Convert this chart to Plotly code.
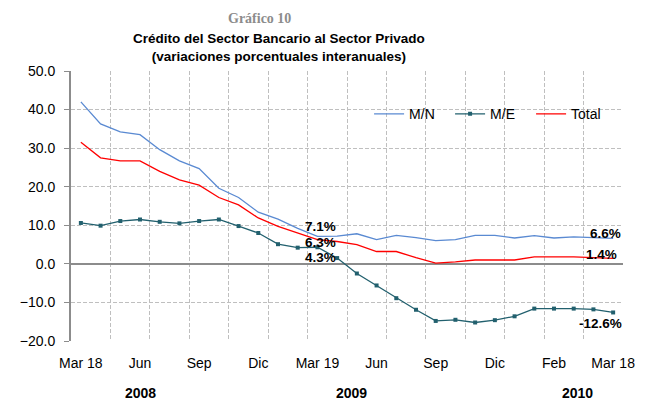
import plotly.graph_objects as go

# 28 observaciones (mar-2008 .. mar-2010)
idx = list(range(28))
mn = [42.0, 36.3, 34.2, 33.5, 29.6, 26.7, 24.7, 19.6, 17.2, 13.4, 11.6, 9.2, 7.1,
      7.2, 7.8, 6.3, 7.4, 6.8, 6.0, 6.3, 7.4, 7.4, 6.7, 7.3, 6.7, 7.0, 6.8, 6.6]
me = [10.6, 9.9, 11.1, 11.5, 10.9, 10.5, 11.1, 11.5, 9.8, 8.0, 5.1, 4.2, 4.3,
      1.5, -2.5, -5.6, -8.9, -11.9, -14.8, -14.5, -15.2, -14.6, -13.6, -11.6, -11.6, -11.6, -11.8, -12.6]
total = [31.5, 27.5, 26.7, 26.7, 24.0, 21.8, 20.4, 17.2, 15.3, 11.9, 9.7, 7.9, 6.3,
         5.8, 5.0, 3.2, 3.2, 1.6, 0.2, 0.5, 1.0, 1.0, 1.0, 1.8, 1.8, 1.8, 1.6, 1.4]
tick_pos = [0, 3, 6, 9, 12, 15, 18, 21, 24, 27]
tick_txt = ['Mar 18', 'Jun', 'Sep', 'Dic', 'Mar 19', 'Jun', 'Sep', 'Dic', 'Feb', 'Mar 18']
years = ['2008', '2009', '2010']
year_pos = [3, 13.75, 25.2]

fig = go.Figure()
fig.add_trace(go.Scatter(x=idx, y=mn, name='M/N', mode='lines',
                         line=dict(color='#5A8AD2', width=1.3)))
fig.add_trace(go.Scatter(x=idx, y=me, name='M/E', mode='lines+markers',
                         line=dict(color='#22606E', width=1.3),
                         marker=dict(symbol='square', size=4, color='#22606E')))
fig.add_trace(go.Scatter(x=idx, y=total, name='Total', mode='lines',
                         line=dict(color='#FF0000', width=1.3)))

# etiquetas de valores
lbl = [(12, mn[12], '7.1%', 3, 10), (12, total[12], '6.3%', 3, -3), (12, me[12], '4.3%', 3, -10),
       (27, mn[27], '6.6%', -8, 5), (27, total[27], '1.4%', -12, 4), (27, me[27], '-12.6%', -13, -11)]
for x, y, t, xs, ys in lbl:
    fig.add_annotation(x=x, y=y, text='<b>%s</b>' % t, showarrow=False, xshift=xs, yshift=ys,
                       font=dict(family='Liberation Sans, Arial', size=13.5, color='black'))

for y, p in zip(years, year_pos):
    fig.add_annotation(x=p, y=0, yref='paper', text='<b>%s</b>' % y, showarrow=False,
                       yanchor='middle', yshift=-52,
                       font=dict(family='Liberation Sans, Arial', size=14, color='black'))

fig.add_annotation(x=0.5, xref='paper', y=1, yref='paper', yanchor='middle', yshift=53, xshift=-88,
                   showarrow=False, text='<b>Gráfico 10</b>',
                   font=dict(family='Liberation Serif, Times New Roman', size=14, color='#8C8C8C'))
fig.add_annotation(x=0.5, xref='paper', y=1, yref='paper', yanchor='middle', yshift=24, xshift=-68,
                   showarrow=False,
                   text='<b>Crédito del Sector Bancario al Sector Privado<br>(variaciones porcentuales interanuales)</b>',
                   font=dict(family='Liberation Sans, Arial', size=13.5, color='black'))

fig.update_layout(
    width=650, height=401,
    margin=dict(l=59, r=35, t=63, b=68),
    plot_bgcolor='white', paper_bgcolor='white',
    font=dict(family='Liberation Sans, Arial', size=14, color='black'),
    showlegend=True,
    legend=dict(orientation='h', x=0.54, xanchor='left', y=0.84, yanchor='middle',
                bgcolor='rgba(0,0,0,0)', font=dict(size=14), itemwidth=30,
                entrywidth=36, entrywidthmode='pixels'),
)
fig.update_xaxes(range=[-0.5, 27.5], tickvals=tick_pos, ticktext=tick_txt, showgrid=False,
                 zeroline=False, ticks='', ticklabelstandoff=12,
                 minor=dict(tickmode='linear', tick0=-0.5, dtick=2, showgrid=True,
                            gridcolor='#BFBFBF', griddash='4px,2px', gridwidth=1),
                 showline=False)
fig.update_yaxes(range=[-20, 50], dtick=10, tickformat='.1f', showgrid=True,
                 gridcolor='#BFBFBF', griddash='4px,2px', gridwidth=1,
                 zeroline=True, zerolinecolor='#8C8C8C', zerolinewidth=2,
                 showline=True, linecolor='#8C8C8C', linewidth=2,
                 ticks='outside', ticklen=5, tickcolor='#8C8C8C', ticklabelstandoff=6)

fig.write_html("out.html")
